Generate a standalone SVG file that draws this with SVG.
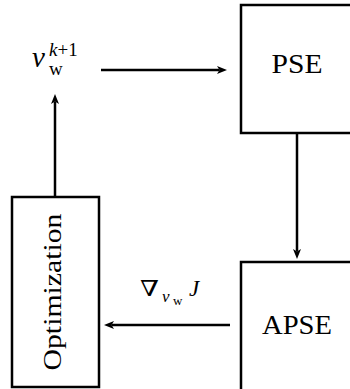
<svg xmlns="http://www.w3.org/2000/svg" width="350" height="389" viewBox="0 0 350 389">
<style>
.box{fill:none;stroke:#000;stroke-width:2.5}
.edge{fill:none;stroke:#000;stroke-width:2.5}
.lbl{font-family:"Liberation Serif","DejaVu Serif",serif;fill:#000}
.it{font-style:italic}
</style>
<defs>
<marker id="arr" viewBox="0 0 10 8" refX="2.5" refY="4" markerWidth="10" markerHeight="8" markerUnits="userSpaceOnUse" orient="auto">
<path d="M0,0 L10,4 L0,8 L2.5,4 z" fill="#000"/>
</marker>
</defs>
<rect width="350" height="389" fill="#fff"/>
<g id="pse">
<rect class="box" x="241" y="5" width="130" height="128"/>
<text class="lbl" x="297" y="73" font-size="27" text-anchor="middle" textLength="51" lengthAdjust="spacingAndGlyphs">PSE</text>
</g>
<g id="apse">
<rect class="box" x="241" y="262" width="130" height="140"/>
<text class="lbl" x="297" y="334" font-size="27" text-anchor="middle" textLength="70" lengthAdjust="spacingAndGlyphs">APSE</text>
</g>
<g id="optimization">
<rect class="box" x="12" y="197" width="87" height="190"/>
<text class="lbl" transform="translate(61,292) rotate(-90)" x="0" y="0" font-size="26" text-anchor="middle" textLength="157" lengthAdjust="spacingAndGlyphs">Optimization</text>
</g>
<g id="vlabel">
<text class="lbl it" x="32" y="67" font-size="29">v</text>
<text class="lbl it" x="49" y="56" font-size="19">k<tspan font-style="normal">+1</tspan></text>
<text class="lbl" x="49" y="75" font-size="19">w</text>
</g>
<g id="gradlabel">
<text class="lbl" x="140" y="296" font-size="22" textLength="19" lengthAdjust="spacingAndGlyphs">∇</text>
<text class="lbl it" x="162" y="302" font-size="17">v</text>
<text class="lbl" x="173" y="305" font-size="13">w</text>
<text class="lbl it" x="189" y="296" font-size="23">J</text>
</g>
<g id="connectors">
<line class="edge" x1="101" y1="70" x2="219.5" y2="70" marker-end="url(#arr)"/>
<line class="edge" x1="55" y1="197" x2="55" y2="101.5" marker-end="url(#arr)"/>
<line class="edge" x1="297" y1="133" x2="297" y2="251.5" marker-end="url(#arr)"/>
<line class="edge" x1="230" y1="325" x2="111.5" y2="325" marker-end="url(#arr)"/>
</g>
</svg>
